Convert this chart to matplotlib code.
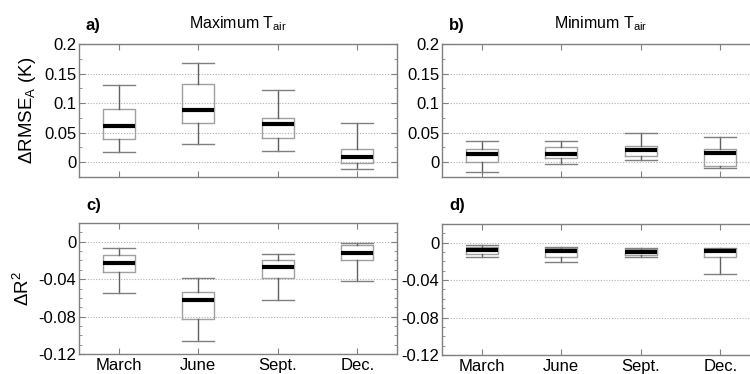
import matplotlib
matplotlib.use("Agg")
import matplotlib.pyplot as plt
from matplotlib.ticker import MultipleLocator

plt.rcParams['font.family'] = ['Liberation Sans', 'DejaVu Sans']
plt.rcParams['mathtext.fontset'] = 'custom'
plt.rcParams['mathtext.rm'] = 'Liberation Sans'
plt.rcParams['mathtext.it'] = 'Liberation Sans'

months = ["March", "June", "Sept.", "Dec."]

# Panel a: Maximum Tair, dRMSE_A
a_whislo = [0.0165, 0.0307, 0.0193, -0.0108]
a_q1 = [0.0398, 0.0665, 0.0410, -0.0017]
a_med = [0.0614, 0.0880, 0.0648, 0.0097]
a_q3 = [0.0909, 0.1330, 0.0750, 0.0216]
a_whishi = [0.1307, 0.1680, 0.1227, 0.0659]

# Panel b: Minimum Tair, dRMSE_A
b_whislo = [-0.0165, -0.0023, 0.0034, -0.0102]
b_q1 = [0.0000, 0.0080, 0.0102, -0.0068]
b_med = [0.0136, 0.0136, 0.0205, 0.0148]
b_q3 = [0.0216, 0.0260, 0.0267, 0.0216]
b_whishi = [0.0352, 0.0352, 0.0489, 0.0432]

# Panel c: Maximum Tair, dR2
c_whislo = [-0.0551, -0.1063, -0.0625, -0.0421]
c_q1 = [-0.0319, -0.0825, -0.0393, -0.0193]
c_med = [-0.0228, -0.0625, -0.0270, -0.0119]
c_q3 = [-0.0140, -0.0540, -0.0196, -0.0039]
c_whishi = [-0.0070, -0.0389, -0.0133, -0.0010]

# Panel d: Minimum Tair, dR2
d_whislo = [-0.0149, -0.0202, -0.0156, -0.0336]
d_q1 = [-0.0124, -0.0156, -0.0131, -0.0149]
d_med = [-0.0078, -0.0092, -0.0103, -0.0088]
d_q3 = [-0.0042, -0.0053, -0.0071, -0.0064]
d_whishi = [-0.0025, -0.0042, -0.0060, -0.0053]

yticks_top = [0, 0.05, 0.1, 0.15, 0.2]
ytick_labels_top = ["0", "0.05", "0.1", "0.15", "0.2"]
yticks_bot = [-0.12, -0.08, -0.04, 0]
ytick_labels_bot = ["-0.12", "-0.08", "-0.04", "0"]

fig = plt.figure(figsize=(7.5, 3.74), dpi=100)

W = 0.424
positions = {
    'a': [0.1053, 0.5267, W, 0.3556],
    'b': [0.5893, 0.5267, W, 0.3556],
    'c': [0.1053, 0.0535, W, 0.3502],
    'd': [0.5893, 0.0510, W, 0.3502],
}

def stats(lo, q1, med, q3, hi):
    return [dict(whislo=l, q1=a, med=m, q3=b, whishi=h, fliers=[], label=lab)
            for l, a, m, b, h, lab in zip(lo, q1, med, q3, hi, months)]

def panel(key, data, ylim, yticks, ylabels, minor, letter, title=None,
          ylabel=None, xlabels=False):
    ax = fig.add_axes(positions[key])
    ax.bxp(stats(*data), positions=[1, 2, 3, 4], widths=0.4, capwidths=0.4,
           showfliers=False,
           boxprops=dict(color='#a0a0a0', linewidth=1.0),
           whiskerprops=dict(color='#606060', linewidth=1.0),
           capprops=dict(color='#808080', linewidth=1.0),
           medianprops=dict(color='black', linewidth=3.0))
    ax.set_xlim(0.5, 4.5)
    ax.set_ylim(*ylim)
    ax.set_yticks(yticks)
    ax.set_yticklabels(ylabels)
    ax.yaxis.set_minor_locator(MultipleLocator(minor))
    ax.set_xticks([1, 2, 3, 4])
    if xlabels:
        ax.set_xticklabels(months)
    else:
        ax.set_xticklabels([])
    ax.tick_params(which='both', direction='in', top=True, right=True,
                   colors='#808080', labelcolor='black', labelsize=12)
    ax.tick_params(which='major', length=4, pad=2)
    ax.tick_params(axis='x', which='major', pad=3)
    ax.tick_params(which='minor', length=2)
    ax.tick_params(axis='x', which='minor', bottom=False, top=False)
    ax.grid(axis='y', which='major', linestyle=(0, (1, 1.5)), color='#b0b0b0',
            linewidth=0.8)
    ax.set_axisbelow(True)
    for s in ax.spines.values():
        s.set_color('#808080')
        s.set_linewidth(1.0)
    ax.text(0.022, 1.08, letter, transform=ax.transAxes, fontsize=12,
            fontweight='bold', ha='left', va='bottom')
    if title:
        ax.set_title(title, fontsize=11.5, pad=11)
    if ylabel:
        ax.set_ylabel(ylabel, fontsize=13.5, labelpad=4)
    return ax

panel('a', (a_whislo, a_q1, a_med, a_q3, a_whishi), (-0.025, 0.2),
      yticks_top, ytick_labels_top, 0.025, 'a)',
      title=r'Maximum T$_{\mathrm{air}}$', ylabel=r'$\Delta$RMSE$_{\mathrm{A}}$ (K)')
panel('b', (b_whislo, b_q1, b_med, b_q3, b_whishi), (-0.025, 0.2),
      yticks_top, ytick_labels_top, 0.025, 'b)',
      title=r'Minimum T$_{\mathrm{air}}$')
panel('c', (c_whislo, c_q1, c_med, c_q3, c_whishi), (-0.12, 0.02),
      yticks_bot, ytick_labels_bot, 0.01, 'c)',
      ylabel=r'$\Delta$R$^{2}$', xlabels=True)
panel('d', (d_whislo, d_q1, d_med, d_q3, d_whishi), (-0.12, 0.02),
      yticks_bot, ytick_labels_bot, 0.01, 'd)', xlabels=True)

fig.savefig("out.png", dpi=100)
